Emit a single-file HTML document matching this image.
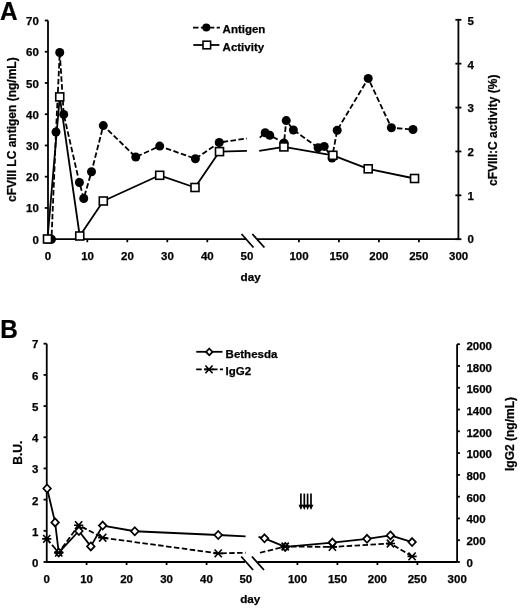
<!DOCTYPE html>
<html><head><meta charset="utf-8"><title>Figure</title>
<style>
html,body{margin:0;padding:0;background:#fff;}
svg{display:block;filter:grayscale(100%);}
text{font-family:"Liberation Sans", sans-serif;font-weight:bold;fill:#000;stroke:#000;stroke-width:0.25px;}
</style></head>
<body>
<svg width="520" height="611" viewBox="0 0 520 611">
<rect width="520" height="611" fill="#fff"/>
<text transform="translate(-0.1,19.6) scale(0.955,1)" font-size="25.5">A</text>
<line x1="48.0" y1="20.5" x2="48.0" y2="240.1" stroke="#000" stroke-width="1.8"/>
<line x1="44.8" y1="239.2" x2="48.0" y2="239.2" stroke="#000" stroke-width="1.8"/>
<text x="38.8" y="243.65" text-anchor="end" font-size="11.5">0</text>
<line x1="44.8" y1="207.957" x2="48.0" y2="207.957" stroke="#000" stroke-width="1.8"/>
<text x="38.8" y="212.43" text-anchor="end" font-size="11.5">10</text>
<line x1="44.8" y1="176.714" x2="48.0" y2="176.714" stroke="#000" stroke-width="1.8"/>
<text x="38.8" y="181.21" text-anchor="end" font-size="11.5">20</text>
<line x1="44.8" y1="145.471" x2="48.0" y2="145.471" stroke="#000" stroke-width="1.8"/>
<text x="38.8" y="149.99" text-anchor="end" font-size="11.5">30</text>
<line x1="44.8" y1="114.229" x2="48.0" y2="114.229" stroke="#000" stroke-width="1.8"/>
<text x="38.8" y="118.77" text-anchor="end" font-size="11.5">40</text>
<line x1="44.8" y1="82.986" x2="48.0" y2="82.986" stroke="#000" stroke-width="1.8"/>
<text x="38.8" y="87.55" text-anchor="end" font-size="11.5">50</text>
<line x1="44.8" y1="51.743" x2="48.0" y2="51.743" stroke="#000" stroke-width="1.8"/>
<text x="38.8" y="56.33" text-anchor="end" font-size="11.5">60</text>
<line x1="44.8" y1="20.5" x2="48.0" y2="20.5" stroke="#000" stroke-width="1.8"/>
<text x="38.8" y="25.11" text-anchor="end" font-size="11.5">70</text>
<line x1="458.4" y1="19.8" x2="458.4" y2="239.2" stroke="#000" stroke-width="1.8"/>
<line x1="455.4" y1="239.2" x2="461.4" y2="239.2" stroke="#000" stroke-width="1.8"/>
<text x="467.6" y="243.2" text-anchor="start" font-size="11.5">0</text>
<line x1="455.4" y1="195.32" x2="461.4" y2="195.32" stroke="#000" stroke-width="1.8"/>
<text x="467.6" y="199.58" text-anchor="start" font-size="11.5">1</text>
<line x1="455.4" y1="151.44" x2="461.4" y2="151.44" stroke="#000" stroke-width="1.8"/>
<text x="467.6" y="155.96" text-anchor="start" font-size="11.5">2</text>
<line x1="455.4" y1="107.56" x2="461.4" y2="107.56" stroke="#000" stroke-width="1.8"/>
<text x="467.6" y="112.34" text-anchor="start" font-size="11.5">3</text>
<line x1="455.4" y1="63.68" x2="461.4" y2="63.68" stroke="#000" stroke-width="1.8"/>
<text x="467.6" y="68.72" text-anchor="start" font-size="11.5">4</text>
<line x1="455.4" y1="19.8" x2="461.4" y2="19.8" stroke="#000" stroke-width="1.8"/>
<text x="467.6" y="25.1" text-anchor="start" font-size="11.5">5</text>
<line x1="48.0" y1="239.2" x2="246.3" y2="239.2" stroke="#000" stroke-width="1.8"/>
<line x1="257.0" y1="239.2" x2="458.4" y2="239.2" stroke="#000" stroke-width="1.8"/>
<line x1="241.5" y1="234" x2="253.5" y2="247.5" stroke="#000" stroke-width="1.8"/>
<line x1="252.3" y1="234" x2="264.4" y2="247.5" stroke="#000" stroke-width="1.8"/>
<line x1="87.3" y1="239.2" x2="87.3" y2="242.2" stroke="#000" stroke-width="1.8"/>
<line x1="127.3" y1="239.2" x2="127.3" y2="242.2" stroke="#000" stroke-width="1.8"/>
<line x1="167.3" y1="239.2" x2="167.3" y2="242.2" stroke="#000" stroke-width="1.8"/>
<line x1="207.3" y1="239.2" x2="207.3" y2="242.2" stroke="#000" stroke-width="1.8"/>
<line x1="298.9" y1="239.2" x2="298.9" y2="242.2" stroke="#000" stroke-width="1.8"/>
<line x1="338.9" y1="239.2" x2="338.9" y2="242.2" stroke="#000" stroke-width="1.8"/>
<line x1="378.9" y1="239.2" x2="378.9" y2="242.2" stroke="#000" stroke-width="1.8"/>
<line x1="418.9" y1="239.2" x2="418.9" y2="242.2" stroke="#000" stroke-width="1.8"/>
<text x="48.0" y="259.8" text-anchor="middle" font-size="11.5">0</text>
<text x="87.6" y="259.8" text-anchor="middle" font-size="11.5">10</text>
<text x="127.5" y="259.8" text-anchor="middle" font-size="11.5">20</text>
<text x="167.4" y="259.8" text-anchor="middle" font-size="11.5">30</text>
<text x="207.3" y="259.8" text-anchor="middle" font-size="11.5">40</text>
<text x="246.9" y="259.8" text-anchor="middle" font-size="11.5">50</text>
<text x="299.0" y="259.8" text-anchor="middle" font-size="11.5">100</text>
<text x="339.0" y="259.8" text-anchor="middle" font-size="11.5">150</text>
<text x="378.9" y="259.8" text-anchor="middle" font-size="11.5">200</text>
<text x="418.8" y="259.8" text-anchor="middle" font-size="11.5">250</text>
<text x="458.6" y="259.8" text-anchor="middle" font-size="11.5">300</text>
<text x="250.6" y="280.9" text-anchor="middle" font-size="11.7">day</text>
<text transform="translate(15.8,129.7) rotate(-90)" text-anchor="middle" font-size="12">cFVIII LC antigen (ng/mL)</text>
<text transform="translate(497.2,130.3) rotate(-90)" text-anchor="middle" font-size="12">cFVIII:C activity (%)</text>
<line x1="193.0" y1="27.6" x2="219.9" y2="27.6" stroke="#000" stroke-width="1.8" stroke-dasharray="5.5 2.4"/>
<circle cx="206.3" cy="27.6" r="4.0" fill="#000"/>
<text x="222.6" y="32.9" text-anchor="start" font-size="11.5">Antigen</text>
<line x1="193.3" y1="45.0" x2="219.4" y2="45.0" stroke="#000" stroke-width="1.8"/>
<rect x="203.0" y="41.2" width="7.6" height="7.6" fill="#fff" stroke="#000" stroke-width="1.6"/>
<text x="222.6" y="51.4" text-anchor="start" font-size="11.5">Activity</text>
<polyline points="47.5,239.2 51.5,239.2 56.0,132.0 59.75,52.5 63.75,114.4 79.4,182.5 83.75,198.5 91.5,171.8 103.3,125.6 135.75,157.0 159.7,146.1 195.4,158.75 219.25,142.5 246.9,138.5" fill="none" stroke="#000" stroke-width="1.8" stroke-linejoin="round" stroke-dasharray="5.5 2.45"/>
<polyline points="259.8,137.6 265.2,132.8 269.7,135.2 284.0,143.0 286.25,120.6 293.4,130.0 318.1,147.7 324.2,146.4 332.0,158.0 337.2,130.2 368.2,78.4 391.4,127.8 413.0,129.5" fill="none" stroke="#000" stroke-width="1.8" stroke-linejoin="round" stroke-dasharray="5.5 2.45"/>
<polyline points="47.5,239.0 59.75,96.9 79.75,236.0 103.3,201.0 159.7,175.3 195.0,187.5 219.5,151.6 246.9,150.8" fill="none" stroke="#000" stroke-width="1.8" stroke-linejoin="round"/>
<polyline points="259.2,150.8 283.9,146.9 332.9,155.3 368.2,168.8 414.55,178.5" fill="none" stroke="#000" stroke-width="1.8" stroke-linejoin="round"/>
<circle cx="47.5" cy="239.2" r="4.5" fill="#000"/>
<circle cx="51.5" cy="239.2" r="4.5" fill="#000"/>
<circle cx="56.0" cy="132.0" r="4.5" fill="#000"/>
<circle cx="59.75" cy="52.5" r="4.5" fill="#000"/>
<circle cx="63.75" cy="114.4" r="4.5" fill="#000"/>
<circle cx="79.4" cy="182.5" r="4.5" fill="#000"/>
<circle cx="83.75" cy="198.5" r="4.5" fill="#000"/>
<circle cx="91.5" cy="171.8" r="4.5" fill="#000"/>
<circle cx="103.3" cy="125.6" r="4.5" fill="#000"/>
<circle cx="135.75" cy="157.0" r="4.5" fill="#000"/>
<circle cx="159.7" cy="146.1" r="4.5" fill="#000"/>
<circle cx="195.4" cy="158.75" r="4.5" fill="#000"/>
<circle cx="219.25" cy="142.5" r="4.5" fill="#000"/>
<circle cx="265.2" cy="132.8" r="4.5" fill="#000"/>
<circle cx="269.7" cy="135.2" r="4.5" fill="#000"/>
<circle cx="284.0" cy="143.0" r="4.5" fill="#000"/>
<circle cx="286.25" cy="120.6" r="4.5" fill="#000"/>
<circle cx="293.4" cy="130.0" r="4.5" fill="#000"/>
<circle cx="318.1" cy="147.7" r="4.5" fill="#000"/>
<circle cx="324.2" cy="146.4" r="4.5" fill="#000"/>
<circle cx="332.0" cy="158.0" r="4.5" fill="#000"/>
<circle cx="337.2" cy="130.2" r="4.5" fill="#000"/>
<circle cx="368.2" cy="78.4" r="4.5" fill="#000"/>
<circle cx="391.4" cy="127.8" r="4.5" fill="#000"/>
<circle cx="413.0" cy="129.5" r="4.5" fill="#000"/>
<rect x="43.5" y="235.0" width="8.0" height="8.0" fill="#fff" stroke="#000" stroke-width="1.6"/>
<rect x="55.75" y="92.9" width="8.0" height="8.0" fill="#fff" stroke="#000" stroke-width="1.6"/>
<rect x="75.75" y="232.0" width="8.0" height="8.0" fill="#fff" stroke="#000" stroke-width="1.6"/>
<rect x="99.3" y="197.0" width="8.0" height="8.0" fill="#fff" stroke="#000" stroke-width="1.6"/>
<rect x="155.7" y="171.3" width="8.0" height="8.0" fill="#fff" stroke="#000" stroke-width="1.6"/>
<rect x="191.0" y="183.5" width="8.0" height="8.0" fill="#fff" stroke="#000" stroke-width="1.6"/>
<rect x="215.5" y="147.6" width="8.0" height="8.0" fill="#fff" stroke="#000" stroke-width="1.6"/>
<rect x="279.9" y="142.9" width="8.0" height="8.0" fill="#fff" stroke="#000" stroke-width="1.6"/>
<rect x="328.9" y="151.3" width="8.0" height="8.0" fill="#fff" stroke="#000" stroke-width="1.6"/>
<rect x="364.2" y="164.8" width="8.0" height="8.0" fill="#fff" stroke="#000" stroke-width="1.6"/>
<rect x="410.55" y="174.5" width="8.0" height="8.0" fill="#fff" stroke="#000" stroke-width="1.6"/>
<text transform="translate(0.3,338.2) scale(0.955,1)" font-size="25.5">B</text>
<line x1="46.75" y1="343.7" x2="46.75" y2="562.9" stroke="#000" stroke-width="1.8"/>
<line x1="43.55" y1="562.0" x2="46.75" y2="562.0" stroke="#000" stroke-width="1.8"/>
<text x="38.4" y="567.0" text-anchor="end" font-size="11.5">0</text>
<line x1="43.55" y1="530.814" x2="46.75" y2="530.814" stroke="#000" stroke-width="1.8"/>
<text x="38.4" y="535.77" text-anchor="end" font-size="11.5">1</text>
<line x1="43.55" y1="499.629" x2="46.75" y2="499.629" stroke="#000" stroke-width="1.8"/>
<text x="38.4" y="504.54" text-anchor="end" font-size="11.5">2</text>
<line x1="43.55" y1="468.443" x2="46.75" y2="468.443" stroke="#000" stroke-width="1.8"/>
<text x="38.4" y="473.31" text-anchor="end" font-size="11.5">3</text>
<line x1="43.55" y1="437.257" x2="46.75" y2="437.257" stroke="#000" stroke-width="1.8"/>
<text x="38.4" y="442.08" text-anchor="end" font-size="11.5">4</text>
<line x1="43.55" y1="406.071" x2="46.75" y2="406.071" stroke="#000" stroke-width="1.8"/>
<text x="38.4" y="410.85" text-anchor="end" font-size="11.5">5</text>
<line x1="43.55" y1="374.886" x2="46.75" y2="374.886" stroke="#000" stroke-width="1.8"/>
<text x="38.4" y="379.62" text-anchor="end" font-size="11.5">6</text>
<line x1="43.55" y1="343.7" x2="46.75" y2="343.7" stroke="#000" stroke-width="1.8"/>
<text x="38.4" y="348.39" text-anchor="end" font-size="11.5">7</text>
<line x1="457.1" y1="344.2" x2="457.1" y2="562.0" stroke="#000" stroke-width="1.8"/>
<line x1="457.1" y1="562.0" x2="459.9" y2="562.0" stroke="#000" stroke-width="1.8"/>
<text x="466.4" y="566.8" text-anchor="start" font-size="11.5">0</text>
<line x1="457.1" y1="540.22" x2="459.9" y2="540.22" stroke="#000" stroke-width="1.8"/>
<text x="466.4" y="545.1" text-anchor="start" font-size="11.5">200</text>
<line x1="457.1" y1="518.44" x2="459.9" y2="518.44" stroke="#000" stroke-width="1.8"/>
<text x="466.4" y="523.4" text-anchor="start" font-size="11.5">400</text>
<line x1="457.1" y1="496.66" x2="459.9" y2="496.66" stroke="#000" stroke-width="1.8"/>
<text x="466.4" y="501.7" text-anchor="start" font-size="11.5">600</text>
<line x1="457.1" y1="474.88" x2="459.9" y2="474.88" stroke="#000" stroke-width="1.8"/>
<text x="466.4" y="480" text-anchor="start" font-size="11.5">800</text>
<line x1="457.1" y1="453.1" x2="459.9" y2="453.1" stroke="#000" stroke-width="1.8"/>
<text x="466.4" y="458.3" text-anchor="start" font-size="11.5">1000</text>
<line x1="457.1" y1="431.32" x2="459.9" y2="431.32" stroke="#000" stroke-width="1.8"/>
<text x="466.4" y="436.6" text-anchor="start" font-size="11.5">1200</text>
<line x1="457.1" y1="409.54" x2="459.9" y2="409.54" stroke="#000" stroke-width="1.8"/>
<text x="466.4" y="414.9" text-anchor="start" font-size="11.5">1400</text>
<line x1="457.1" y1="387.76" x2="459.9" y2="387.76" stroke="#000" stroke-width="1.8"/>
<text x="466.4" y="393.2" text-anchor="start" font-size="11.5">1600</text>
<line x1="457.1" y1="365.98" x2="459.9" y2="365.98" stroke="#000" stroke-width="1.8"/>
<text x="466.4" y="371.5" text-anchor="start" font-size="11.5">1800</text>
<line x1="457.1" y1="344.2" x2="459.9" y2="344.2" stroke="#000" stroke-width="1.8"/>
<text x="466.4" y="349.8" text-anchor="start" font-size="11.5">2000</text>
<line x1="46.75" y1="562.0" x2="245.0" y2="562.0" stroke="#000" stroke-width="1.8"/>
<line x1="257.5" y1="562.0" x2="457.1" y2="562.0" stroke="#000" stroke-width="1.8"/>
<line x1="241.2" y1="556.5" x2="253.1" y2="570" stroke="#000" stroke-width="1.8"/>
<line x1="251.9" y1="556.5" x2="264.0" y2="570" stroke="#000" stroke-width="1.8"/>
<line x1="86.6" y1="562.0" x2="86.6" y2="565.0" stroke="#000" stroke-width="1.8"/>
<line x1="126.6" y1="562.0" x2="126.6" y2="565.0" stroke="#000" stroke-width="1.8"/>
<line x1="166.6" y1="562.0" x2="166.6" y2="565.0" stroke="#000" stroke-width="1.8"/>
<line x1="206.6" y1="562.0" x2="206.6" y2="565.0" stroke="#000" stroke-width="1.8"/>
<line x1="297.4" y1="562.0" x2="297.4" y2="565.0" stroke="#000" stroke-width="1.8"/>
<line x1="337.4" y1="562.0" x2="337.4" y2="565.0" stroke="#000" stroke-width="1.8"/>
<line x1="377.4" y1="562.0" x2="377.4" y2="565.0" stroke="#000" stroke-width="1.8"/>
<line x1="417.4" y1="562.0" x2="417.4" y2="565.0" stroke="#000" stroke-width="1.8"/>
<text x="46.75" y="582.7" text-anchor="middle" font-size="11.5">0</text>
<text x="86.6" y="582.7" text-anchor="middle" font-size="11.5">10</text>
<text x="126.6" y="582.7" text-anchor="middle" font-size="11.5">20</text>
<text x="166.6" y="582.7" text-anchor="middle" font-size="11.5">30</text>
<text x="206.4" y="582.7" text-anchor="middle" font-size="11.5">40</text>
<text x="245.8" y="582.7" text-anchor="middle" font-size="11.5">50</text>
<text x="297.5" y="582.7" text-anchor="middle" font-size="11.5">100</text>
<text x="337.5" y="582.7" text-anchor="middle" font-size="11.5">150</text>
<text x="377.4" y="582.7" text-anchor="middle" font-size="11.5">200</text>
<text x="417.3" y="582.7" text-anchor="middle" font-size="11.5">250</text>
<text x="457.2" y="582.7" text-anchor="middle" font-size="11.5">300</text>
<text x="250.3" y="603.0" text-anchor="middle" font-size="11.7">day</text>
<text transform="translate(21.5,452.7) rotate(-90)" text-anchor="middle" font-size="12">B.U.</text>
<text transform="translate(514.4,434.0) rotate(-90)" text-anchor="middle" font-size="12">IgG2 (ng/mL)</text>
<line x1="196.3" y1="351.8" x2="222.5" y2="351.8" stroke="#000" stroke-width="1.8"/>
<path d="M209.3,348.5 L212.5,351.9 L209.3,355.3 L206.1,351.9 Z" fill="#fff" stroke="#000" stroke-width="1.8" stroke-linejoin="miter"/>
<text x="225.6" y="357.8" text-anchor="start" font-size="11.5">Bethesda</text>
<line x1="196.2" y1="369.35" x2="223.0" y2="369.35" stroke="#000" stroke-width="1.8" stroke-dasharray="5.5 2.4"/>
<path d="M205.4,365.5 L212.6,373.3 M212.6,365.5 L205.4,373.3 M204.4,369.4 L213.6,369.4" stroke="#000" stroke-width="1.6" fill="none"/>
<text x="225.6" y="375.2" text-anchor="start" font-size="11.5">IgG2</text>
<polyline points="46.75,538.9 58.75,552.6 78.65,525.2 102.7,537.7 218.2,553.4 245.6,552.75" fill="none" stroke="#000" stroke-width="1.8" stroke-linejoin="round" stroke-dasharray="5.5 2.45"/>
<polyline points="260.0,552.75 285.2,546.5 332.4,546.9 390.45,543.5 412.1,556.4" fill="none" stroke="#000" stroke-width="1.8" stroke-linejoin="round" stroke-dasharray="5.5 2.45"/>
<polyline points="47.1,488.5 55.1,522.4 58.75,552.6 78.9,531.0 90.8,546.4 102.7,525.6 134.8,531.25 218.2,535.0 245.6,536.3" fill="none" stroke="#000" stroke-width="1.8" stroke-linejoin="round"/>
<polyline points="258.5,536.9 264.5,538.3 285.2,546.9 332.4,542.6 367.0,538.8 390.45,535.4 412.1,542.1" fill="none" stroke="#000" stroke-width="1.8" stroke-linejoin="round"/>
<path d="M47.1,484.5 L50.9,488.5 L47.1,492.5 L43.3,488.5 Z" fill="#fff" stroke="#000" stroke-width="1.7" stroke-linejoin="miter"/>
<path d="M55.1,518.4 L58.9,522.4 L55.1,526.4 L51.3,522.4 Z" fill="#fff" stroke="#000" stroke-width="1.7" stroke-linejoin="miter"/>
<path d="M58.75,548.6 L62.55,552.6 L58.75,556.6 L54.95,552.6 Z" fill="#fff" stroke="#000" stroke-width="1.7" stroke-linejoin="miter"/>
<path d="M78.9,527.0 L82.7,531.0 L78.9,535.0 L75.1,531.0 Z" fill="#fff" stroke="#000" stroke-width="1.7" stroke-linejoin="miter"/>
<path d="M90.8,542.4 L94.6,546.4 L90.8,550.4 L87.0,546.4 Z" fill="#fff" stroke="#000" stroke-width="1.7" stroke-linejoin="miter"/>
<path d="M102.7,521.6 L106.5,525.6 L102.7,529.6 L98.9,525.6 Z" fill="#fff" stroke="#000" stroke-width="1.7" stroke-linejoin="miter"/>
<path d="M134.8,527.25 L138.6,531.25 L134.8,535.25 L131.0,531.25 Z" fill="#fff" stroke="#000" stroke-width="1.7" stroke-linejoin="miter"/>
<path d="M218.2,531.0 L222.0,535.0 L218.2,539.0 L214.4,535.0 Z" fill="#fff" stroke="#000" stroke-width="1.7" stroke-linejoin="miter"/>
<path d="M264.5,534.3 L268.3,538.3 L264.5,542.3 L260.7,538.3 Z" fill="#fff" stroke="#000" stroke-width="1.7" stroke-linejoin="miter"/>
<path d="M285.2,542.9 L289.0,546.9 L285.2,550.9 L281.4,546.9 Z" fill="#fff" stroke="#000" stroke-width="1.7" stroke-linejoin="miter"/>
<path d="M332.4,538.6 L336.2,542.6 L332.4,546.6 L328.6,542.6 Z" fill="#fff" stroke="#000" stroke-width="1.7" stroke-linejoin="miter"/>
<path d="M367.0,534.8 L370.8,538.8 L367.0,542.8 L363.2,538.8 Z" fill="#fff" stroke="#000" stroke-width="1.7" stroke-linejoin="miter"/>
<path d="M390.45,531.4 L394.25,535.4 L390.45,539.4 L386.65,535.4 Z" fill="#fff" stroke="#000" stroke-width="1.7" stroke-linejoin="miter"/>
<path d="M412.1,538.1 L415.9,542.1 L412.1,546.1 L408.3,542.1 Z" fill="#fff" stroke="#000" stroke-width="1.7" stroke-linejoin="miter"/>
<path d="M43.15,535.0 L50.35,542.8 M50.35,535.0 L43.15,542.8 M42.15,538.9 L51.35,538.9" stroke="#000" stroke-width="1.6" fill="none"/>
<path d="M55.15,548.7 L62.35,556.5 M62.35,548.7 L55.15,556.5 M54.15,552.6 L63.35,552.6" stroke="#000" stroke-width="1.6" fill="none"/>
<path d="M75.05,521.3 L82.25,529.1 M82.25,521.3 L75.05,529.1 M74.05,525.2 L83.25,525.2" stroke="#000" stroke-width="1.6" fill="none"/>
<path d="M99.1,533.8 L106.3,541.6 M106.3,533.8 L99.1,541.6 M98.1,537.7 L107.3,537.7" stroke="#000" stroke-width="1.6" fill="none"/>
<path d="M214.6,549.5 L221.8,557.3 M221.8,549.5 L214.6,557.3 M213.6,553.4 L222.8,553.4" stroke="#000" stroke-width="1.6" fill="none"/>
<path d="M281.6,542.6 L288.8,550.4 M288.8,542.6 L281.6,550.4 M280.6,546.5 L289.8,546.5" stroke="#000" stroke-width="1.6" fill="none"/>
<path d="M328.8,543.0 L336.0,550.8 M336.0,543.0 L328.8,550.8 M327.8,546.9 L337.0,546.9" stroke="#000" stroke-width="1.6" fill="none"/>
<path d="M386.85,539.6 L394.05,547.4 M394.05,539.6 L386.85,547.4 M385.85,543.5 L395.05,543.5" stroke="#000" stroke-width="1.6" fill="none"/>
<path d="M408.5,552.5 L415.7,560.3 M415.7,552.5 L408.5,560.3 M407.5,556.4 L416.7,556.4" stroke="#000" stroke-width="1.6" fill="none"/>
<line x1="300.9" y1="493.6" x2="300.9" y2="505.5" stroke="#000" stroke-width="1.7"/>
<path d="M298.5,504.8 L303.3,504.8 L300.9,510 Z" fill="#000"/>
<line x1="304.3" y1="493.6" x2="304.3" y2="505.5" stroke="#000" stroke-width="1.7"/>
<path d="M301.9,504.8 L306.7,504.8 L304.3,510 Z" fill="#000"/>
<line x1="307.6" y1="493.6" x2="307.6" y2="505.5" stroke="#000" stroke-width="1.7"/>
<path d="M305.2,504.8 L310.0,504.8 L307.6,510 Z" fill="#000"/>
<line x1="311.0" y1="493.6" x2="311.0" y2="505.5" stroke="#000" stroke-width="1.7"/>
<path d="M308.6,504.8 L313.4,504.8 L311.0,510 Z" fill="#000"/>
</svg>
</body></html>
